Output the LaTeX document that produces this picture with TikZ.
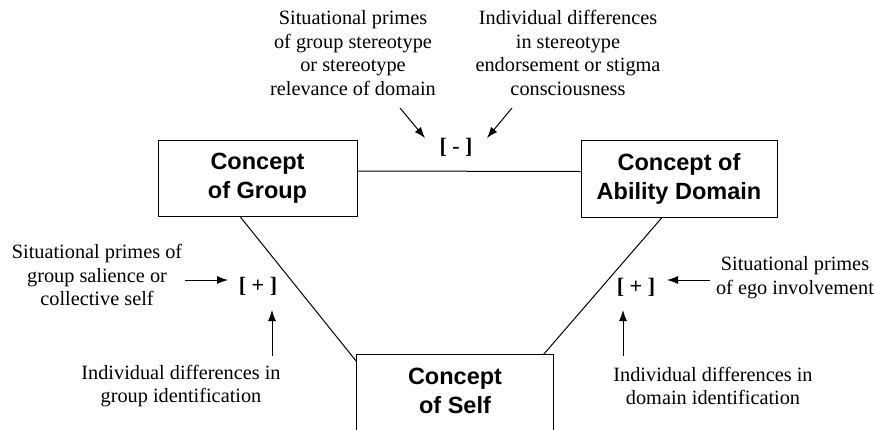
\documentclass[tikz,border=0pt]{standalone}
\usepackage{fontspec}
\setmainfont{Liberation Serif}
\setsansfont{Liberation Sans}
\usetikzlibrary{arrows.meta}
\begin{document}
\begin{tikzpicture}[x=1pt,y=-1pt,
  box/.style={draw, line width=1pt, font=\sffamily\bfseries\fontsize{23.5}{29}\selectfont, align=center, inner sep=0pt},
  note/.style={font=\fontsize{20.3}{23.5}\selectfont, align=center, inner sep=0pt},
  sign/.style={font=\bfseries\fontsize{22}{26}\selectfont, inner sep=0pt},
  arr/.style={-{Latex[length=11pt,width=8pt]}, line width=1pt},
  link/.style={line width=1pt}]
\useasboundingbox (0,0) rectangle (876,429);
\clip (0,0) rectangle (876,429);
% boxes
\node[box, minimum width=199pt, minimum height=76pt] (g) at (257.5,178) {Concept\\of Group};
\node[box, minimum width=196pt, minimum height=77pt] (a) at (679,178.5) {Concept of\\Ability Domain};
\node[box, draw=none, minimum width=196pt, minimum height=72pt] (s) at (455,391) {Concept\\of Self};
\draw[link] ([yshift=-40pt]s.south west) -- (s.north west) -- (s.north east) -- ([yshift=-40pt]s.south east);
% links
\draw[link] ([yshift=7pt]g.east) -- ([yshift=7pt]a.west);
\draw[link] ([xshift=-17.5pt]g.south) -- ([yshift=-7pt]s.north west);
\draw[link] ([xshift=-17pt]a.south) -- ([xshift=-10pt]s.north east);
% signs
\node[sign] (minus) at (456,147) {[ - ]};
\node[sign] (plusL) at (258,286) {[ + ]};
\node[sign] (plusR) at (636,287) {[ + ]};
% notes
\node[note] (t1) at (353,53) {Situational primes\\of group stereotype\\or stereotype\\relevance of domain};
\node[note] (t2) at (568,53) {Individual differences\\in stereotype\\endorsement or stigma\\consciousness};
\node[note] (l1) at (97,275) {Situational primes of\\group salience or\\collective self};
\node[note] (l2) at (181,386) {Individual differences in\\group identification};
\node[note] (r1) at (795,277.5) {Situational primes\\of ego involvement};
\node[note] (r2) at (713,386) {Individual differences in\\domain identification};
% arrow ends
\coordinate (t1s) at (400,108); \coordinate (t1e) at (425,138);
\coordinate (t2s) at (512,108); \coordinate (t2e) at (487,138);
\coordinate (l1s) at (185,280); \coordinate (l1e) at (228,280);
\coordinate (l2s) at (272,356); \coordinate (l2e) at (272,310);
\coordinate (r1s) at (710,280); \coordinate (r1e) at (667,280);
\coordinate (r2s) at (623,356); \coordinate (r2e) at (623,310);
\draw[arr] (t1s) -- (t1e);
\draw[arr] (t2s) -- (t2e);
\draw[arr] (l1s) -- (l1e);
\draw[arr] (l2s) -- (l2e);
\draw[arr] (r1s) -- (r1e);
\draw[arr] (r2s) -- (r2e);
\end{tikzpicture}
\end{document}
